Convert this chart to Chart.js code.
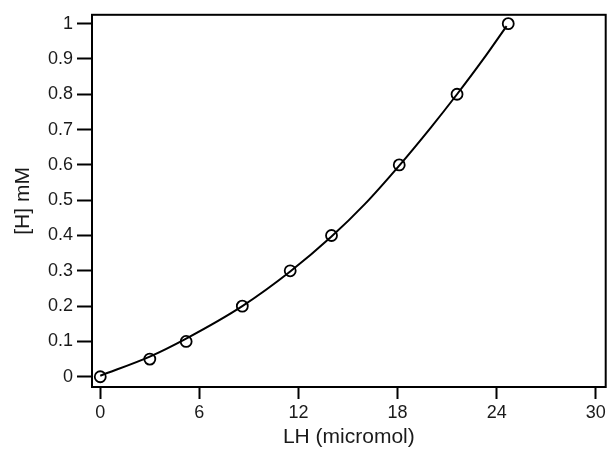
<!DOCTYPE html>
<html>
<head>
<meta charset="utf-8">
<script src="https://cdn.jsdelivr.net/npm/chart.js@4/dist/chart.umd.min.js"></script>
<style>
html,body{margin:0;padding:0;background:#fff;}
#wrap{width:613px;height:450px;position:relative;}
</style>
</head>
<body>
<div id="wrap"><canvas id="c" width="613" height="450"></canvas></div>
<script>
// Measured points
const lhValues = [0, 3, 5.2, 8.6, 11.5, 14, 18.1, 21.6, 24.7];
const hValues  = [0, 0.05, 0.1, 0.2, 0.3, 0.4, 0.6, 0.8, 1.0];
// Fitted curve
const curveLH = [0, 3, 5.2, 8.6, 11.5, 14, 16, 18.1, 20, 21.6, 23.2, 24.6];
const curveH  = [0.003, 0.057, 0.108, 0.2, 0.298, 0.397, 0.488, 0.598, 0.705, 0.8, 0.9, 0.993];
// Tick labels
const xTicks = [0, 6, 12, 18, 24, 30];
const yTicks = [0, 0.1, 0.2, 0.3, 0.4, 0.5, 0.6, 0.7, 0.8, 0.9, 1];
const xTitle = 'LH (micromol)';
const yTitle = '[H] mM';

const pts = lhValues.map((x, i) => ({x: x, y: hValues[i]}));
const curve = curveLH.map((x, i) => ({x: x, y: curveH[i]}));

const frame = {
  id: 'frame',
  afterDraw(chart) {
    const a = chart.chartArea, ctx = chart.ctx;
    ctx.save();
    ctx.strokeStyle = '#000';
    ctx.lineWidth = 2;
    ctx.strokeRect(a.left, a.top, a.right - a.left, a.bottom - a.top);
    ctx.restore();
  }
};

const fam = '"Liberation Sans", Arial, sans-serif';
const tickFont = {family: fam, size: 18};
const titleFont = {family: fam, size: 21};

new Chart(document.getElementById('c'), {
  type: 'scatter',
  data: {
    datasets: [
      {
        type: 'line',
        data: curve,
        borderColor: '#000',
        borderWidth: 2,
        pointRadius: 0,
        fill: false,
        cubicInterpolationMode: 'monotone'
      },
      {
        data: pts,
        borderColor: '#000',
        backgroundColor: 'rgba(0,0,0,0)',
        borderWidth: 1.8,
        pointRadius: 5.5,
        pointStyle: 'circle'
      }
    ]
  },
  plugins: [frame],
  options: {
    responsive: false,
    animation: false,
    events: [],
    layout: {padding: {left: 0, right: 3, top: 13, bottom: 0}},
    plugins: {legend: {display: false}, tooltip: {enabled: false}},
    scales: {
      x: {
        type: 'linear',
        min: -0.5,
        max: 30.6,
        afterBuildTicks(s) { s.ticks = xTicks.map(v => ({value: v})); },
        afterFit(s) { s.height = 63; },
        grid: {drawOnChartArea: false, drawTicks: true, tickLength: 12, tickWidth: 2, color: '#000'},
        border: {display: true, color: '#000', width: 2},
        ticks: {color: '#1a1a1a', font: tickFont, padding: 3, maxRotation: 0, callback: v => String(v)},
        title: {display: true, text: xTitle, color: '#1a1a1a', font: titleFont, padding: {top: 3, bottom: 0}}
      },
      y: {
        type: 'linear',
        min: -0.029,
        max: 1.025,
        afterBuildTicks(s) { s.ticks = yTicks.map(v => ({value: v})); },
        afterFit(s) { s.width = 92; },
        grid: {drawOnChartArea: false, drawTicks: true, tickLength: 15, tickWidth: 2, color: '#000'},
        border: {display: true, color: '#000', width: 2},
        ticks: {color: '#1a1a1a', font: tickFont, padding: 4, callback: v => String(Math.round(v * 10) / 10)},
        title: {display: true, text: yTitle, color: '#1a1a1a', font: titleFont, padding: {top: 11, bottom: 0}}
      }
    }
  }
});
</script>
</body>
</html>
